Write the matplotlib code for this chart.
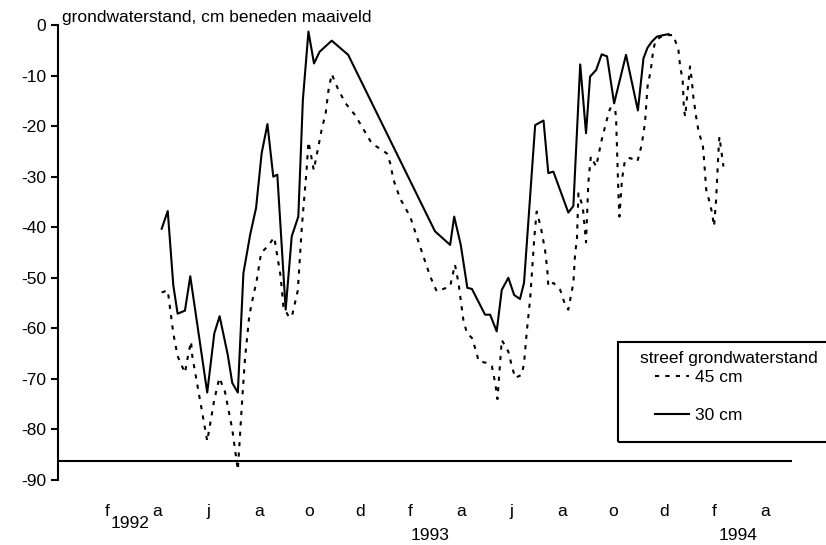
import matplotlib
matplotlib.use('Agg')
import matplotlib.pyplot as plt
from matplotlib.patches import Rectangle

plt.rcParams['font.family'] = ['Liberation Sans', 'DejaVu Sans']
plt.rcParams['font.size'] = 12.5
plt.rcParams['axes.unicode_minus'] = False

# x = months after 1 Jan 1992 (label "f" 1992 sits at 1), y = cm relative to ground level
solid_x = [3.16, 3.40, 3.62, 3.79, 4.08, 4.29, 4.96, 5.24, 5.45, 5.77, 5.95, 6.17,
           6.39, 6.66, 6.89, 7.11, 7.34, 7.57, 7.73, 8.06, 8.30, 8.56, 8.74, 8.96,
           9.18, 9.40, 9.88, 10.53, 13.96, 14.56, 14.72, 14.98, 15.24, 15.42, 15.94,
           16.14, 16.40, 16.60, 16.86, 17.09, 17.32, 17.48, 17.92, 18.25, 18.44, 18.64,
           19.23, 19.43, 19.70, 19.93, 20.09, 20.33, 20.55, 20.76, 21.04, 21.51, 21.98,
           22.20, 22.36, 22.53, 22.73, 22.99, 23.19]
solid_y = [-40.3, -36.8, -51.5, -57.1, -56.5, -49.7, -72.7, -61.0, -57.6, -65.2, -70.8, -72.7,
           -49.1, -41.4, -36.2, -25.4, -19.6, -30.0, -29.6, -56.3, -41.8, -37.9, -14.8, -1.3,
           -7.6, -5.3, -3.1, -5.9, -40.8, -43.5, -37.9, -43.5, -52.0, -52.2, -57.3,
           -57.3, -60.6, -52.4, -50.0, -53.4, -54.2, -51.0, -19.8, -18.9, -29.3, -29.0,
           -37.1, -35.8, -7.8, -21.4, -10.2, -8.9, -5.8, -6.2, -15.5, -5.9, -16.9,
           -6.6, -4.5, -3.3, -2.3, -2.0, -1.8]

dash_x = [3.16, 3.40, 3.62, 3.79, 4.08, 4.21, 4.32, 4.37, 4.96, 5.24, 5.44, 5.66,
          5.95, 6.17, 6.35, 6.45, 6.62, 6.72, 6.92, 7.09, 7.36, 7.61, 7.86, 7.97,
          8.17, 8.30, 8.54, 8.70, 8.79, 8.89, 8.96, 9.06, 9.17, 9.30, 9.49, 9.64,
          9.75, 9.88, 10.14, 10.43, 10.80, 11.46, 12.06, 12.19, 12.32, 12.58, 12.98,
          13.37, 13.77, 14.03, 14.56, 14.75, 14.89, 15.08, 15.22, 15.42, 15.61, 15.68,
          16.07, 16.21, 16.34, 16.43, 16.60, 16.86, 17.00, 17.13, 17.39, 17.48, 17.59,
          17.72, 17.83, 17.89, 17.98, 18.14, 18.31, 18.40, 18.44, 18.64, 18.91, 19.10,
          19.23, 19.43, 19.50, 19.57, 19.63, 19.80, 19.93, 20.02, 20.12, 20.33, 20.55,
          20.75, 20.88, 21.08, 21.12, 21.21, 21.25, 21.35, 21.47, 21.67, 21.96, 22.13,
          22.26, 22.36, 22.49, 22.57, 22.66, 22.86, 23.15, 23.38, 23.58, 23.65, 23.75,
          23.80, 23.85, 23.91, 24.04, 24.11, 24.17, 24.28, 24.37, 24.55, 24.60, 24.68,
          24.77, 24.90, 24.99, 25.07, 25.16, 25.20, 25.36]
dash_y = [-52.9, -52.5, -61.0, -65.5, -68.8, -65.2, -62.6, -65.5, -82.3, -74.1, -69.8, -72.5,
          -80.0, -88.0, -73.5, -66.2, -57.6, -55.0, -50.4, -45.1, -43.7, -42.0, -49.7, -55.7,
          -57.6, -57.8, -52.5, -39.9, -34.6, -28.5, -23.1, -25.7, -28.7, -25.4, -20.5, -17.5,
          -13.0, -9.7, -12.8, -15.5, -17.8, -23.4, -25.4, -27.3, -30.6, -34.3, -37.9,
          -43.8, -49.7, -52.7, -51.7, -47.4, -51.0, -58.3, -60.9, -61.9, -64.9, -66.5,
          -66.9, -67.5, -70.8, -74.0, -62.3, -64.6, -67.5, -69.8, -69.2, -66.9, -60.6,
          -54.3, -46.4, -41.8, -36.9, -39.9, -44.5, -48.4, -51.7, -51.0, -52.4, -55.3,
          -56.3, -51.0, -45.1, -42.5, -33.3, -35.9, -43.0, -31.3, -26.0, -28.0, -22.7,
          -18.8, -16.5, -16.5, -18.8, -33.3, -37.9, -30.6, -26.7, -26.3, -27.0, -23.7,
          -19.4, -12.2, -8.9, -5.6, -3.3, -2.4, -2.0, -2.0, -4.9, -8.2, -10.9,
          -16.8, -18.1, -14.8, -8.2, -10.9, -14.2, -18.1, -20.8, -24.0, -27.0, -32.6,
          -34.2, -36.9, -39.8, -34.6, -25.4, -22.1, -28.0]

month_pos = list(range(1, 29, 2))
month_labels = ['f', 'a', 'j', 'a', 'o', 'd', 'f', 'a', 'j', 'a', 'o', 'd', 'f', 'a']
year_pos = [1.91, 13.77, 25.94]
year_labels = ['1992', '1993', '1994']
year_y = [-0.095, -0.123, -0.123]
base_level = -86.3

fig = plt.figure(figsize=(8.26, 5.45), dpi=100)
ax = fig.add_axes([58 / 826, 65 / 545, 734 / 826, 455 / 545])

l45, = ax.plot(dash_x, dash_y, color='black', lw=1.5, linestyle=(0, (2.0, 3.0)), label='45 cm')
l30, = ax.plot(solid_x, solid_y, color='black', lw=1.5, label='30 cm')
ax.axhline(base_level, color='black', lw=1.5)

ax.set_xlim(-0.937, 28.07)
ax.set_ylim(-90, 0)
ax.set_yticks(range(0, -100, -10))
ax.set_xticks(month_pos)
ax.set_xticklabels(month_labels)
ax.tick_params(axis='x', length=0, pad=17)
ax.tick_params(axis='y', direction='out', length=5, width=1.5, pad=3.5)
for s in ['top', 'right', 'bottom']:
    ax.spines[s].set_visible(False)
ax.spines['left'].set_linewidth(1.5)

for xp, lab, yy in zip(year_pos, year_labels, year_y):
    ax.text(xp, yy, lab, transform=ax.get_xaxis_transform(), ha='center', va='center')

fig.text(62 / 826, 1 - 22 / 545, 'grondwaterstand, cm beneden maaiveld', ha='left', va='baseline')

# legend box
fig.patches.append(Rectangle((618 / 826, 1 - 442 / 545), 220 / 826, 100 / 545,
                             transform=fig.transFigure, fill=False, edgecolor='black', lw=1.5))
fig.text(729 / 826, 1 - 358 / 545, 'streef grondwaterstand', ha='center', va='center')
ax.legend(handles=[l45, l30], loc='upper left', bbox_to_anchor=(655 / 826, 1 - 370 / 545),
          bbox_transform=fig.transFigure, frameon=False, borderpad=0, borderaxespad=0,
          handlelength=1.95, handletextpad=0.35, labelspacing=1.3)

fig.savefig('out.png', dpi=100)
